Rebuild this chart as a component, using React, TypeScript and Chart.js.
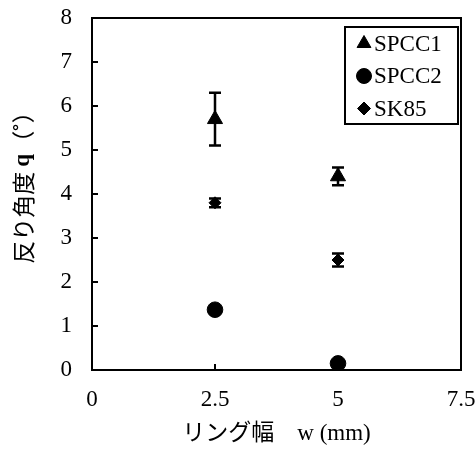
import { useEffect, useRef } from 'react';
import { Chart, registerables } from 'chart.js';
import { drawPoint } from 'chart.js/helpers';

Chart.register(...registerables);

// ---- data ----
const widths = [2.5, 5];
const seriesLabels = ['SPCC1', 'SPCC2', 'SK85'];
const spcc1 = [5.7, 4.4];
const spcc1Err = [0.6, 0.2];
const spcc2 = [1.37, 0.15];
const spcc2Err = [0.05, 0.05];
const sk85 = [3.8, 2.5];
const sk85Err = [0.1, 0.15];
const xTickValues = [0, 2.5, 5, 7.5];
const yTickValues = [0, 1, 2, 3, 4, 5, 6, 7, 8];
const xTitle = 'リング幅　w (mm)';
const yTitleParts = ['反り角度 ', 'q', '（˚）'];

const seriesValues = [spcc1, spcc2, sk85];
const seriesErrors = [spcc1Err, spcc2Err, sk85Err];
const pointStyles = ['triangle', 'circle', 'rectRot'];
const pointRadii = [8.7, 7.8, 6];
const legendRadii = [8, 7.5, 6.5];

const SERIF = "'Liberation Serif', 'Times New Roman', serif";
const MIXED = "'Liberation Serif', 'Noto Sans CJK JP', sans-serif";
const CJK = "'Noto Sans CJK JP', sans-serif";

const framePlugin = {
  id: 'frameAndTicks',
  afterDraw(chart: any) {
    const { ctx, chartArea } = chart;
    const xs = chart.scales.x;
    const ys = chart.scales.y;
    ctx.save();
    ctx.strokeStyle = '#000';
    ctx.lineWidth = 2;
    ctx.strokeRect(chartArea.left, chartArea.top, chartArea.right - chartArea.left, chartArea.bottom - chartArea.top);
    ctx.beginPath();
    yTickValues.forEach((v) => {
      const py = ys.getPixelForValue(v);
      ctx.moveTo(chartArea.left, py);
      ctx.lineTo(chartArea.left + 6, py);
    });
    xTickValues.forEach((v) => {
      const px = xs.getPixelForValue(v);
      ctx.moveTo(px, chartArea.bottom);
      ctx.lineTo(px, chartArea.bottom - 6);
    });
    ctx.stroke();

    // legend
    const boxRight = chartArea.right - 3;
    const boxTop = chartArea.top + 9;
    const boxW = 113;
    const boxH = 97;
    const boxLeft = boxRight - boxW;
    ctx.fillStyle = '#fff';
    ctx.fillRect(boxLeft, boxTop, boxW, boxH);
    ctx.strokeRect(boxLeft, boxTop, boxW, boxH);
    ctx.font = `23px ${SERIF}`;
    ctx.textBaseline = 'middle';
    ctx.textAlign = 'left';
    seriesLabels.forEach((label, i) => {
      const cy = boxTop + 16.5 + i * 32.5;
      ctx.fillStyle = '#000';
      ctx.strokeStyle = '#000';
      ctx.lineWidth = 1;
      drawPoint(ctx, { pointStyle: pointStyles[i], radius: legendRadii[i], rotation: 0, borderWidth: 1 } as any, boxLeft + 19, cy);
      ctx.fillStyle = '#000';
      ctx.fillText(label, boxLeft + 29, cy + 1);
    });

    // y axis title (mixed fonts)
    const fonts = [`23px ${CJK}`, `bold 23px ${SERIF}`, `23px ${CJK}`];
    const ws = yTitleParts.map((t, i) => { ctx.font = fonts[i]; return ctx.measureText(t).width; });
    const total = ws.reduce((a, b) => a + b, 0);
    const cy = (chartArea.top + chartArea.bottom) / 2 - 12;
    ctx.translate(23, cy);
    ctx.rotate(-Math.PI / 2);
    let x = -total / 2;
    ctx.fillStyle = '#000';
    ctx.textBaseline = 'middle';
    yTitleParts.forEach((t, i) => {
      ctx.font = fonts[i];
      ctx.fillText(t, x, 0);
      x += ws[i];
    });
    ctx.restore();
  },
};

const errorBarPlugin = {
  id: 'errorBars',
  beforeDatasetsDraw(chart: any) {
    const { ctx } = chart;
    const xs = chart.scales.x;
    const ys = chart.scales.y;
    ctx.save();
    ctx.strokeStyle = '#000';
    ctx.lineWidth = 2.5;
    seriesValues.forEach((vals, si) => {
      vals.forEach((v, i) => {
        const e = seriesErrors[si][i];
        const px = xs.getPixelForValue(widths[i]);
        const top = ys.getPixelForValue(v + e);
        const bot = ys.getPixelForValue(v - e);
        ctx.beginPath();
        ctx.moveTo(px, top);
        ctx.lineTo(px, bot);
        ctx.moveTo(px - 6, top);
        ctx.lineTo(px + 6, top);
        ctx.moveTo(px - 6, bot);
        ctx.lineTo(px + 6, bot);
        ctx.stroke();
      });
    });
    ctx.restore();
  },
};

export default function App() {
  const ref = useRef<HTMLCanvasElement | null>(null);
  useEffect(() => {
    if (!ref.current) return;
    const chart = new Chart(ref.current, {
      type: 'scatter',
      data: {
        datasets: seriesLabels.map((label, si) => ({
          label,
          data: widths.map((w, i) => ({ x: w, y: seriesValues[si][i] })),
          pointStyle: pointStyles[si] as any,
          pointRadius: pointRadii[si],
          pointBackgroundColor: '#000',
          pointBorderColor: '#000',
          pointBorderWidth: 1,
          showLine: false,
        })),
      },
      options: {
        animation: false,
        responsive: false,
        layout: { padding: { left: 0, top: 18, right: 15, bottom: 0 } },
        plugins: { legend: { display: false }, tooltip: { enabled: false } },
        scales: {
          x: {
            type: 'linear',
            min: 0,
            max: 7.5,
            afterFit: (s: any) => { s.height = 80; s.paddingLeft = 0; s.paddingRight = 0; },
            afterBuildTicks: (s: any) => { s.ticks = xTickValues.map((v) => ({ value: v })); },
            grid: { display: false, drawTicks: false },
            border: { display: false },
            ticks: { color: '#000', font: { family: SERIF, size: 23 }, padding: 16, maxRotation: 0 },
            title: { display: true, text: xTitle, color: '#000', font: { family: MIXED, size: 23 }, padding: { top: 0, bottom: 2 } },
          },
          y: {
            type: 'linear',
            min: 0,
            max: 8,
            afterFit: (s: any) => { s.width = 92; s.paddingTop = 0; s.paddingBottom = 0; },
            afterBuildTicks: (s: any) => { s.ticks = yTickValues.map((v) => ({ value: v })); },
            grid: { display: false, drawTicks: false },
            border: { display: false },
            ticks: { color: '#000', font: { family: SERIF, size: 23 }, padding: 20 },
            title: { display: false },
          },
        },
      },
      plugins: [errorBarPlugin, framePlugin],
    });
    return () => chart.destroy();
  }, []);
  return (
    <div style={{ position: 'absolute', left: 0, top: 0, width: 476, height: 450, background: '#fff' }}>
      <canvas ref={ref} width={476} height={450} />
    </div>
  );
}
